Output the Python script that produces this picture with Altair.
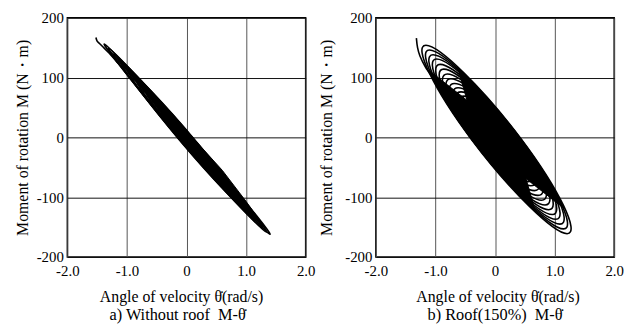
import altair as alt
import pandas as pd

FONT = "Liberation Serif"

# ---------------- panel a) Without roof ----------------
# loops: upper-left tip, lower-right tip, half width at the centre line
a_ul_x = [-1.38, -1.31, -1.22, -1.10, -0.96, -0.82, -0.66]
a_ul_y = [156, 149, 139, 126, 110, 94, 75]
a_lr_x = [1.40, 1.34, 1.27, 1.15, 1.01, 0.87, 0.70]
a_lr_y = [-162, -158, -151, -138, -122, -106, -86]
a_w = [0.08, 0.10, 0.11, 0.12, 0.13, 0.12, 0.11]

a_tail_x = [-1.52, -1.50, -1.46, -1.40, -1.30, -1.15]
a_tail_y = [167, 161, 157, 151, 141, 124]

# dense core of panel a (closed outline)
a_core_x = [-1.30, -1.0, -0.6, -0.2, 0.2, 0.6, 1.0, 1.32, 1.0, 0.6, 0.2, -0.2, -0.6, -1.0]
a_core_y = [146, 119, 78, 35, -11, -55, -107, -152, -125, -79, -36, 9, 62, 110]

# ---------------- panel b) Roof(150%) ----------------
b_ul_x = [-1.16, -1.10, -1.04, -0.98, -0.92, -0.86, -0.80, -0.74, -0.68, -0.62, -0.57, -0.52]
b_ul_y = [154, 146, 138, 131, 122, 114, 106, 98, 90, 83, 76, 69]
b_lr_x = [1.21, 1.15, 1.09, 1.02, 0.96, 0.90, 0.84, 0.78, 0.72, 0.66, 0.60, 0.55]
b_lr_y = [-161, -153, -145, -137, -129, -121, -113, -105, -97, -89, -81, -74]
b_w = [0.42, 0.41, 0.41, 0.40, 0.40, 0.39, 0.39, 0.38, 0.38, 0.37, 0.37, 0.36]

b_tail_x = [-1.32, -1.30, -1.26, -1.17, -1.06]
b_tail_y = [166, 150, 136, 118, 102]

# dense core of panel b (closed outline, notched at both tips)
b_core_x = [-0.47, -0.63, -0.43, -0.22, 0.085, 0.425, 0.72, 0.96, 1.16,
            0.52, 0.68, 0.274, -0.048, -0.375, -0.686, -0.91, -1.11]
b_core_y = [62, 118, 98, 75, 40, -3.5, -45, -82, -119,
            -69, -125, -82, -45, -3.5, 40, 75, 112]

x_ticks = [-2, -1, 0, 1, 2]
y_ticks = [-200, -100, 0, 100, 200]


def loops_df(ulx, uly, lrx, lry, w):
    rows = []
    for i in range(len(ulx)):
        cx = (ulx[i] + lrx[i]) / 2
        cy = (uly[i] + lry[i]) / 2
        pts = [(ulx[i], uly[i]), (cx + w[i], cy), (lrx[i], lry[i]), (cx - w[i], cy)]
        for k, (x, y) in enumerate(pts):
            rows.append({"loop": i, "k": k, "x": x, "y": y})
    return pd.DataFrame(rows)


def panel(ulx, uly, lrx, lry, w, tx, ty, cx, cy, caption, ytitle_pad, cap_dx, xtitle_x):
    xs = alt.Scale(domain=[-2, 2], nice=False, zero=False)
    ys = alt.Scale(domain=[-200, 200], nice=False, zero=False)
    xax = alt.Axis(values=x_ticks,
                   labelExpr="datum.value == 0 ? '0' : (datum.value < 0 ? '-' : '') + format(abs(datum.value), '.1f')",
                   grid=True, gridColor="#555555", gridWidth=1, ticks=False, domain=False,
                   labelFont={"expr": "'Liberation Serif'"}, labelFontSize=15, labelColor="black",
                   labelPadding=7, labelFlush=False, labelOverlap=False,
                   title="Angle of velocity θ̇(rad/s)", titleFont={"expr": "'Liberation Serif'"},
                   titleFontSize=16, titleFontWeight="normal", titleColor="black",
                   titlePadding=10, titleX=xtitle_x)
    yax = alt.Axis(values=y_ticks,
                   labelExpr="(datum.value < 0 ? '-' : '') + format(abs(datum.value), 'd')",
                   grid=True, gridColor="#111111", gridWidth=1, ticks=False,
                   domain=False, labelFont={"expr": "'Liberation Serif'"}, labelFontSize=15,
                   labelColor="black", labelPadding=4, labelOverlap=False,
                   title="Moment of rotation M (N・m)", titleFont={"expr": "'Liberation Serif'"},
                   titleFontSize=16, titleFontWeight="normal", titleColor="black",
                   titlePadding=ytitle_pad)

    core = alt.Chart(pd.DataFrame({"x": cx, "y": cy, "k": list(range(len(cx)))})).mark_line(
        color="black", fill="black", strokeWidth=1, interpolate="linear-closed").encode(
        x=alt.X("x:Q", scale=xs, axis=xax),
        y=alt.Y("y:Q", scale=ys, axis=yax),
        order="k:Q")

    loops = alt.Chart(loops_df(ulx, uly, lrx, lry, w)).mark_line(
        color="black", strokeWidth=1.6, interpolate="cardinal-closed",
        tension={"expr": "-0.6"}).encode(
        x=alt.X("x:Q", scale=xs, axis=xax),
        y=alt.Y("y:Q", scale=ys, axis=yax),
        detail="loop:N", order="k:Q")

    tail = alt.Chart(pd.DataFrame({"x": tx, "y": ty, "k": list(range(len(tx)))})).mark_line(
        color="black", strokeWidth=1.6, interpolate="cardinal").encode(
        x=alt.X("x:Q", scale=xs, axis=xax),
        y=alt.Y("y:Q", scale=ys, axis=yax),
        order="k:Q")

    return alt.layer(core, loops, tail).properties(
        width=241, height=242,
        title=alt.TitleParams(text=caption, orient="bottom", anchor="middle", frame="group",
                              font=FONT, fontSize=16.5, fontWeight="normal", color="black",
                              offset=3, dx=cap_dx))


left = panel(a_ul_x, a_ul_y, a_lr_x, a_lr_y, a_w, a_tail_x, a_tail_y,
             a_core_x, a_core_y, "a) Without roof\u00a0 M-θ̇", 6, -9, 115)
right = panel(b_ul_x, b_ul_y, b_lr_x, b_lr_y, b_w, b_tail_x, b_tail_y,
              b_core_x, b_core_y, "b) Roof(150%)\u00a0 M-θ̇", 10, 0, 123)

chart = alt.hconcat(left, right, spacing=71, bounds="flush").properties(
    padding={"left": 5, "top": 0, "right": 5, "bottom": 5},
    background="white"
).configure(
    font=FONT,
    view=alt.ViewConfig(stroke="black", strokeWidth=1.5),
    axis=alt.AxisConfig(labelFont=FONT, titleFont=FONT, labelColor="black", titleColor="black"),
    style={"guide-label": {"font": FONT}, "guide-title": {"font": FONT}},
    title=alt.TitleConfig(font=FONT),
)

chart.save("out.html", embed_options={"renderer": "svg", "actions": False})
